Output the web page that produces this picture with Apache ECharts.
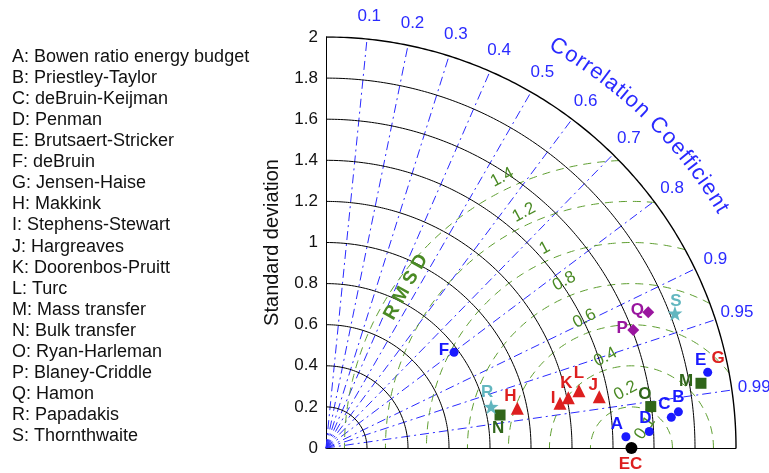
<!DOCTYPE html>
<html>
<head>
<meta charset="utf-8">
<script src="https://cdn.jsdelivr.net/npm/echarts@6/dist/echarts.min.js"></script>
<style>
html, body { margin: 0; padding: 0; background: #fff; }
#main { width: 769px; height: 473px; }
</style>
</head>
<body>
<div id="main"></div>
<script>
// ---- data ----
var methodNames = [
    'A: Bowen ratio energy budget', 'B: Priestley-Taylor', 'C: deBruin-Keijman', 'D: Penman',
    'E: Brutsaert-Stricker', 'F: deBruin', 'G: Jensen-Haise', 'H: Makkink', 'I: Stephens-Stewart',
    'J: Hargreaves', 'K: Doorenbos-Pruitt', 'L: Turc', 'M: Mass transfer', 'N: Bulk transfer',
    'O: Ryan-Harleman', 'P: Blaney-Criddle', 'Q: Hamon', 'R: Papadakis', 'S: Thornthwaite'
];
var pointIds = ['A', 'B', 'C', 'D', 'E', 'F', 'G', 'H', 'I', 'J', 'K', 'L', 'M', 'N', 'O', 'P', 'Q', 'R', 'S'];
var pointStd = [1.464, 1.728, 1.691, 1.579, 1.898, 0.779, 1.950, 0.953, 1.162, 1.356, 1.207, 1.265, 1.856, 0.864, 1.597, 1.605, 1.705, 0.830, 1.824];
var pointCorr = [0.9993, 0.9948, 0.9961, 0.9987, 0.9810, 0.8017, 0.9809, 0.9792, 0.9823, 0.9829, 0.9792, 0.9754, 0.9855, 0.9826, 0.9920, 0.9338, 0.9220, 0.9702, 0.9332];
var refStd = 1.49;   // EC (observed)
var stdTicks = [0.2, 0.4, 0.6, 0.8, 1, 1.2, 1.4, 1.6, 1.8, 2];
var corrTicks = [0.1, 0.2, 0.3, 0.4, 0.5, 0.6, 0.7, 0.8, 0.9, 0.95, 0.99];
var rmsdTicks = [0.2, 0.4, 0.6, 0.8, 1, 1.2, 1.4];

// ---- styles ----
var FONT = '"Liberation Sans", Arial, Helvetica, sans-serif';
var BLUE = '#2a2aff';
var RMSD_LINE = '#5e9e30';
var RMSD_TEXT = '#4a8a24';
var groupStyle = {
    blue:   { color: '#1a1aff', symbol: 'circle',   size: 9 },
    red:    { color: '#dd1f1f', symbol: 'triangle', size: 13 },
    green:  { color: '#30661a', symbol: 'rect',     size: 11 },
    purple: { color: '#9a169f', symbol: 'diamond',  size: 12 },
    teal:   { color: '#62b6bf', symbol: 'path://M0,-10L2.35,-3.24L9.51,-3.09L3.8,1.24L5.88,8.09L0,4L-5.88,8.09L-3.8,1.24L-9.51,-3.09L-2.35,-3.24Z', size: 15 }
};
var groupOf = { A: 'blue', B: 'blue', C: 'blue', D: 'blue', E: 'blue', F: 'blue', G: 'red',
    H: 'red', I: 'red', J: 'red', K: 'red', L: 'red', M: 'green', N: 'green', O: 'green',
    P: 'purple', Q: 'purple', R: 'teal', S: 'teal' };
// label offset from marker centre (px)
var labelOffset = { A: [-9, -12], B: [0, -15], C: [-7, -13], D: [-4, -13], E: [-7, -12], F: [-10, -2],
    G: [0, -12], H: [-7, -12], I: [-7, -5], J: [-6, -11], K: [-2, -14], L: [0, -17], M: [-15, -2],
    N: [-2, 13], O: [-6, -12], P: [-11, -2], Q: [-11, -2], R: [-4, -14], S: [1, -12] };

function toXY(s, c) {
    return [s * c, s * Math.sqrt(Math.max(0, 1 - c * c))];
}
function arc(cx, r, a0, a1) {
    var pts = [], n = 180;
    for (var i = 0; i <= n; i++) {
        var a = (a0 + (a1 - a0) * i / n) * Math.PI / 180;
        pts.push([cx + r * Math.cos(a), r * Math.sin(a)]);
    }
    return pts;
}

var series = [];

// std circles
stdTicks.forEach(function (r) {
    series.push({
        type: 'line', data: arc(0, r, 0, 90), symbol: 'none', silent: true, animation: false,
        lineStyle: { color: '#000', width: r === 2 ? 1.4 : 1 }, z: 3
    });
});

// correlation rays
corrTicks.forEach(function (c) {
    series.push({
        type: 'line', data: [[0, 0], toXY(2, c)], symbol: 'none', silent: true, animation: false,
        lineStyle: { color: BLUE, width: 1, type: [9, 4, 2, 4] }, z: 2
    });
});

// RMSD circles around EC, clipped to the quarter disc
rmsdTicks.forEach(function (r) {
    var a0 = 0;
    if (r > 2 - refStd) {
        a0 = Math.acos((4 - refStd * refStd - r * r) / (2 * refStd * r)) * 180 / Math.PI;
    }
    series.push({
        type: 'line', data: arc(refStd, r, a0, 180), symbol: 'none', silent: true, animation: false,
        lineStyle: { color: RMSD_LINE, width: 1, type: [8, 6] }, z: 2
    });
});

// text carriers: invisible scatter points that only show a label
function textSeries(data, label) {
    return {
        type: 'scatter', silent: true, animation: false, clip: false, symbolSize: 1,
        itemStyle: { color: 'transparent', opacity: 1 },
        data: data,
        label: Object.assign({ show: true, position: 'inside', formatter: '{b}', fontFamily: FONT }, label),
        z: 5
    };
}

// correlation tick labels
series.push(textSeries(
    corrTicks.map(function (c) { return { name: String(c), value: toXY(2.11, c) }; }),
    { color: BLUE, fontSize: 17 }
));

// RMSD tick labels (distance, angle seen from EC)
var rmsdLabelPos = [[0.28, 96], [0.46, 106], [0.67, 110], [0.875, 112], [1.06, 113.5], [1.26, 114.6], [1.46, 115.6]];
var rmsdLabelData = rmsdTicks.map(function (r, i) {
    var d = rmsdLabelPos[i][0], a = rmsdLabelPos[i][1] * Math.PI / 180;
    return { name: String(r), value: [refStd + d * Math.cos(a), d * Math.sin(a)] };
});
rmsdLabelData.push({ name: '0.1', value: [1.556, 0.097], label: { rotate: 55 } });
rmsdLabelData.push({ name: 'R M S D', value: [0.39, 0.783], label: { rotate: 61, fontWeight: 'bold', fontSize: 19 } });
series.push(textSeries(rmsdLabelData, { color: RMSD_TEXT, fontSize: 17, rotate: 28 }));

// curved "Correlation Coefficient"
var ctx = document.createElement('canvas').getContext('2d');
ctx.font = '22px ' + FONT;
var title = 'Correlation Coefficient';
var chars = title.split('');
var widths = chars.map(function (ch) { return ctx.measureText(ch).width; });
var centers = [], acc = 0;
widths.forEach(function (w) { centers.push(acc + w / 2); acc += w; });
var span = centers[centers.length - 1] - centers[0];
var titleData = [];
chars.forEach(function (ch, i) {
    if (ch === ' ') return;
    var phi = 59.9 - (centers[i] - centers[0]) / span * (59.9 - 31.1);
    var rad = phi * Math.PI / 180;
    titleData.push({ name: ch, value: [2.255 * Math.cos(rad), 2.255 * Math.sin(rad)], label: { rotate: phi - 90 } });
});
series.push(textSeries(titleData, { color: BLUE, fontSize: 22 }));

// method points
var pointData = pointIds.map(function (id, i) {
    var g = groupStyle[groupOf[id]];
    var hidden = id === 'G';
    return {
        name: id,
        value: toXY(pointStd[i], pointCorr[i]),
        symbol: g.symbol,
        symbolSize: hidden ? 0 : g.size,
        itemStyle: { color: g.color, opacity: 1 },
        label: { color: g.color, offset: labelOffset[id] }
    };
});
pointData.push({
    name: 'EC', value: [refStd, 0], symbol: 'circle', symbolSize: 12,
    itemStyle: { color: '#000', opacity: 1 }, label: { color: '#dd1f1f', offset: [-1, 16] }
});
series.push({
    type: 'scatter', silent: true, animation: false, clip: false,
    data: pointData,
    itemStyle: { opacity: 1 },
    label: { show: true, position: 'inside', formatter: '{b}', fontSize: 17, fontWeight: 'bold', fontFamily: FONT },
    z: 10
});

// legend list on the left
var legendText = methodNames.map(function (t, i) {
    return {
        type: 'text', x: 12, y: 57 + i * 21.06,
        style: { text: t, font: '18px ' + FONT, fill: '#111', verticalAlign: 'middle' }
    };
});

var chart = echarts.init(document.getElementById('main'));
chart.setOption({
    animation: false,
    grid: { left: 326, top: 37, width: 410, height: 411 },
    xAxis: {
        type: 'value', min: 0, max: 2,
        axisLine: { show: true, lineStyle: { color: '#000', width: 1 } },
        axisLabel: { show: false }, axisTick: { show: false }, splitLine: { show: false }
    },
    yAxis: {
        type: 'value', min: 0, max: 2, interval: 0.2,
        name: 'Standard deviation', nameLocation: 'middle', nameGap: 44,
        nameTextStyle: { fontSize: 20, color: '#111', fontFamily: FONT },
        axisLine: { show: true, lineStyle: { color: '#000', width: 1 } },
        axisLabel: { fontSize: 17, color: '#111', fontFamily: FONT, margin: 8 },
        axisTick: { show: false }, splitLine: { show: false }
    },
    graphic: legendText,
    series: series
});
</script>
</body>
</html>
